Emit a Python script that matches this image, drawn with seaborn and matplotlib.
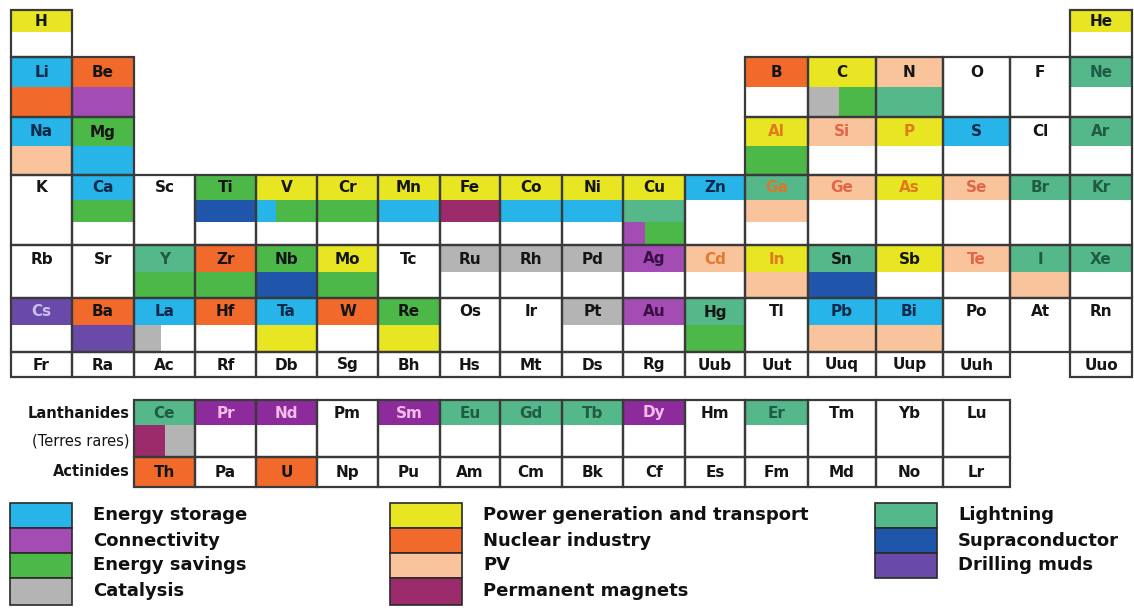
import matplotlib.pyplot as plt
import seaborn as sns
from matplotlib.patches import Rectangle

sns.set_theme(style="white")
plt.rcParams["font.family"] = ["DejaVu Sans"]

# category colours (legend keys), "RE" is the purple used for rare earths
colors = {
    "ES": "#27b4e8", "CO": "#a34cb4", "SV": "#4cb848", "CA": "#b4b4b4",
    "PW": "#e8e622", "NU": "#f26a2b", "PV": "#f9c49c", "PM": "#9b2b6b",
    "LI": "#55b88a", "SU": "#1f55ab", "DM": "#6a4aa9", "RE": "#8d2b9c",
}

legend_cols = [
    [("ES", "Energy storage"), ("CO", "Connectivity"),
     ("SV", "Energy savings"), ("CA", "Catalysis")],
    [("PW", "Power generation and transport"), ("NU", "Nuclear industry"),
     ("PV", "PV"), ("PM", "Permanent magnets")],
    [("LI", "Lightning"), ("SU", "Supraconductor"), ("DM", "Drilling muds")],
]

periods = [
    ["H", "", "", "", "", "", "", "", "", "", "", "", "", "", "", "", "", "He"],
    ["Li", "Be", "", "", "", "", "", "", "", "", "", "", "B", "C", "N", "O", "F", "Ne"],
    ["Na", "Mg", "", "", "", "", "", "", "", "", "", "", "Al", "Si", "P", "S", "Cl", "Ar"],
    ["K", "Ca", "Sc", "Ti", "V", "Cr", "Mn", "Fe", "Co", "Ni", "Cu", "Zn", "Ga", "Ge", "As", "Se", "Br", "Kr"],
    ["Rb", "Sr", "Y", "Zr", "Nb", "Mo", "Tc", "Ru", "Rh", "Pd", "Ag", "Cd", "In", "Sn", "Sb", "Te", "I", "Xe"],
    ["Cs", "Ba", "La", "Hf", "Ta", "W", "Re", "Os", "Ir", "Pt", "Au", "Hg", "Tl", "Pb", "Bi", "Po", "At", "Rn"],
    ["Fr", "Ra", "Ac", "Rf", "Db", "Sg", "Bh", "Hs", "Mt", "Ds", "Rg", "Uub", "Uut", "Uuq", "Uup", "Uuh", "", "Uuo"],
]
lanthanides = ["Ce", "Pr", "Nd", "Pm", "Sm", "Eu", "Gd", "Tb", "Dy", "Hm", "Er", "Tm", "Yb", "Lu"]
actinides = ["Th", "Pa", "U", "Np", "Pu", "Am", "Cm", "Bk", "Cf", "Es", "Fm", "Md", "No", "Lr"]

# bands top -> bottom separated by "/", segments by "+", optional ":fraction"
uses = {
    "H": "PW", "He": "PW",
    "Li": "ES/NU", "Be": "NU/CO", "B": "NU", "C": "PW/CA:0.45+SV", "N": "PV/LI", "Ne": "LI",
    "Na": "ES/PV", "Mg": "SV/ES", "Al": "PW/SV", "Si": "PV", "P": "PW", "S": "ES", "Ar": "LI",
    "Ca": "ES/SV", "Ti": "SV/SU", "V": "PW/ES:0.33+SV", "Cr": "PW/SV", "Mn": "PW/ES",
    "Fe": "PW/PM", "Co": "PW/ES", "Ni": "PW/ES", "Cu": "PW/LI/CO:0.35+SV", "Zn": "ES",
    "Ga": "LI/PV", "Ge": "PV", "As": "PW", "Se": "PV", "Br": "LI", "Kr": "LI",
    "Y": "LI/SV", "Zr": "NU/SV", "Nb": "SV/SU", "Mo": "PW/SV", "Ru": "CA", "Rh": "CA",
    "Pd": "CA", "Ag": "CO", "Cd": "PV", "In": "PW/PV", "Sn": "LI/SU", "Sb": "PW",
    "Te": "PV", "I": "LI/PV", "Xe": "LI",
    "Cs": "DM", "Ba": "NU/DM", "La": "ES/CA:0.45+-", "Hf": "NU", "Ta": "ES/PW", "W": "NU",
    "Re": "SV/PW", "Pt": "CA", "Au": "CO", "Hg": "LI/SV", "Pb": "ES/PV", "Bi": "ES/PV",
    "Ce": "LI/PM:0.5+CA:0.5", "Pr": "RE", "Nd": "RE", "Sm": "RE", "Eu": "LI", "Gd": "LI",
    "Tb": "LI", "Dy": "RE", "Er": "LI",
    "Th": "NU", "U": "NU",
}

label_colors = {
    "Al": "#e07a1f", "P": "#e07a1f", "As": "#e07a1f", "In": "#e07a1f", "Ga": "#d9772a", "Cd": "#e07a30",
    "Si": "#e0674a", "Ge": "#e0674a", "Se": "#e0674a", "Te": "#e0674a",
    "Cs": "#cdbcee", "Pr": "#f2bde8", "Nd": "#f2bde8", "Sm": "#f2bde8", "Dy": "#f2bde8",
    "Ne": "#1f5c45", "Ar": "#1f5c45", "Br": "#1f5c45", "Kr": "#1f5c45", "Xe": "#1f5c45",
    "I": "#1f5c45", "Y": "#1f5c45", "Ce": "#1f5c45", "Eu": "#1f5c45", "Gd": "#1f5c45",
    "Tb": "#1f5c45", "Er": "#1f5c45",
    "Li": "#0d2a4a", "Na": "#0d2a4a", "Ca": "#0d2a4a", "Zn": "#0d2a4a", "S": "#0d2a4a",
    "La": "#0d2a4a", "Ta": "#0d2a4a", "Pb": "#0d2a4a", "Bi": "#0d2a4a",
    "Ag": "#3a0f45", "Au": "#3a0f45",
}

# layout in pixels
col_edges = [11, 72, 134, 195, 256, 317, 378, 440, 500, 562, 623, 685, 745, 808, 876, 943, 1010, 1070, 1132]
period_bands = [
    [10, 32, 57], [57, 87, 117], [117, 146, 175], [175, 200, 222, 245],
    [245, 272, 298], [298, 325, 352], [352, 377],
]
lan_bands = [400, 425, 457]
act_bands = [457, 487]
edge = "#3a3a3a"

fig = plt.figure(figsize=(11.34, 6.10), dpi=100)
ax = fig.add_axes([0, 0, 1, 1])
ax.set_xlim(0, 1134)
ax.set_ylim(610, 0)
ax.axis("off")


def parse_band(spec):
    segs = []
    for part in spec.split("+"):
        if ":" in part:
            code, frac = part.split(":")
            segs.append((code, float(frac)))
        else:
            segs.append((part, None))
    fixed = sum(f for _, f in segs if f is not None)
    free = [s for s in segs if s[1] is None]
    rest = (1 - fixed) / len(free) if free else 0
    return [(c, f if f is not None else rest) for c, f in segs]


def draw_cell(sym, x0, x1, bands):
    spec = uses.get(sym, "")
    if spec:
        for i, band in enumerate(spec.split("/")):
            y0, y1 = bands[i], bands[i + 1]
            xs = x0
            for code, frac in parse_band(band):
                w = (x1 - x0) * frac
                if code != "-":
                    ax.add_patch(Rectangle((xs, y0), w, y1 - y0, color=colors[code], lw=0, zorder=1))
                xs += w
    ax.add_patch(Rectangle((x0, bands[0]), x1 - x0, bands[-1] - bands[0],
                           fill=False, ec=edge, lw=1.6, zorder=2))
    ax.text((x0 + x1) / 2, (bands[0] + bands[1]) / 2 + 0.5, sym, ha="center", va="center",
            fontsize=11, fontweight="bold", color=label_colors.get(sym, "#151515"), zorder=3)


for p, row in enumerate(periods):
    for c, sym in enumerate(row):
        if sym:
            draw_cell(sym, col_edges[c], col_edges[c + 1], period_bands[p])

for i, sym in enumerate(lanthanides):
    draw_cell(sym, col_edges[i + 2], col_edges[i + 3], lan_bands)
for i, sym in enumerate(actinides):
    draw_cell(sym, col_edges[i + 2], col_edges[i + 3], act_bands)

ax.text(130, 413, "Lanthanides", ha="right", va="center", fontsize=10.5, fontweight="bold", color="#151515")
ax.text(130, 441, "(Terres rares)", ha="right", va="center", fontsize=10.5, color="#151515")
ax.text(130, 472, "Actinides", ha="right", va="center", fontsize=10.5, fontweight="bold", color="#151515")

# legend
legend_x = [(10, 72, 93), (390, 462, 483), (875, 937, 958)]
legend_rows = [503, 528, 553, 578, 605]
for (sx0, sx1, tx), entries in zip(legend_x, legend_cols):
    for j, (code, label) in enumerate(entries):
        y0, y1 = legend_rows[j], legend_rows[j + 1]
        ax.add_patch(Rectangle((sx0, y0), sx1 - sx0, y1 - y0, fc=colors[code], ec="#2a2a2a", lw=1.2))
        ax.text(tx, (y0 + y1) / 2, label, ha="left", va="center", fontsize=13,
                fontweight="bold", color="#111111")

fig.savefig("out.png", dpi=100)
